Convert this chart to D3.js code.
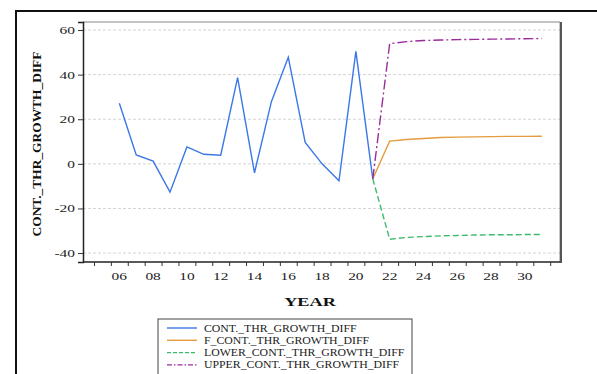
<!DOCTYPE html>
<html>
<head>
<meta charset="utf-8">
<script src="https://cdn.jsdelivr.net/npm/d3@7"></script>
<style>
	body { margin: 0; background: #fff; }
	text { font-family: 'Liberation Serif', 'Times New Roman', serif; }
</style>
</head>
<body>
<div id="root"></div>
<script>
// ---- data ----
const actualYears = [2006, 2007, 2008, 2009, 2010, 2011, 2012, 2013, 2014, 2015, 2016, 2017, 2018, 2019, 2020, 2021]
const actualValues = [27.2, 4.0, 1.2, -12.7, 7.6, 4.3, 3.9, 38.7, -4.0, 27.9, 47.8, 9.6, 0.0, -7.6, 50.4, -6.7]

const forecastYears = [2021, 2022, 2023, 2024, 2025, 2026, 2027, 2028, 2029, 2030, 2031]
const forecastValues = [-6.7, 10.2, 10.9, 11.4, 11.8, 12.0, 12.1, 12.2, 12.3, 12.3, 12.4]
const lowerValues = [-6.7, -33.8, -33.0, -32.6, -32.3, -32.1, -31.9, -31.8, -31.8, -31.7, -31.7]
const upperValues = [-6.7, 53.9, 54.8, 55.3, 55.5, 55.7, 55.8, 55.9, 56.0, 56.1, 56.2]

const yTicks = [-40, -20, 0, 20, 40, 60]
const xLabelYears = [2006, 2008, 2010, 2012, 2014, 2016, 2018, 2020, 2022, 2024, 2026, 2028, 2030]

const seriesNames = [
	'CONT._THR_GROWTH_DIFF',
	'F_CONT._THR_GROWTH_DIFF',
	'LOWER_CONT._THR_GROWTH_DIFF',
	'UPPER_CONT._THR_GROWTH_DIFF',
]

const C = {
	width: 597,
	height: 374,
	plot: { left: 83, right: 560, top: 22, bottom: 262 },
	stretch: 1.4,
	colors: ['#3a78e8', '#e59b3f', '#3dbb6c', '#9a2c9e'],
	dashes: [null, null, '6,3', '10,3,2,3'],
}

const svg = d3.select('#root').append('svg')
	.attr('width', C.width)
	.attr('height', C.height)

// stretch text horizontally like the source image
function widen (sel, k) {
	sel.each(function () {
		const w = this.getComputedTextLength()
		d3.select(this)
			.attr('textLength', w * k)
			.attr('lengthAdjust', 'spacingAndGlyphs')
	})
}

// outer frame
svg.append('rect')
	.attr('x', 16)
	.attr('y', 11)
	.attr('width', 700)
	.attr('height', 500)
	.attr('fill', 'none')
	.attr('stroke', '#111')
	.attr('stroke-width', 2)

const x = d3.scaleLinear()
	.domain([2003.85, 2032.08])
	.range([C.plot.left, C.plot.right])

const y = d3.scaleLinear()
	.domain([-44, 63.6])
	.range([C.plot.bottom, C.plot.top])

// grid
svg.append('g')
	.selectAll('line')
	.data(yTicks)
	.enter()
	.append('line')
	.attr('x1', C.plot.left)
	.attr('x2', C.plot.right)
	.attr('y1', d => y(d))
	.attr('y2', d => y(d))
	.attr('stroke', '#d4d4d4')
	.attr('stroke-width', 1)
	.attr('stroke-dasharray', '3,2')

// frame: top + right grey
svg.append('path')
	.attr('d', `M${C.plot.left},${C.plot.top}H${C.plot.right}V${C.plot.bottom}`)
	.attr('fill', 'none')
	.attr('stroke', '#888')
	.attr('stroke-width', 1)
svg.append('line')
	.attr('x1', C.plot.right + 1)
	.attr('x2', C.plot.right + 1)
	.attr('y1', C.plot.top)
	.attr('y2', C.plot.bottom + 1)
	.attr('stroke', '#555')
	.attr('stroke-width', 2)

// y axis
const axisY = d3.axisLeft(y)
	.tickValues(yTicks)
	.tickFormat(d => String(d))
	.tickSize(5)
	.tickPadding(3)
const gy = svg.append('g')
	.attr('transform', `translate(${C.plot.left},0)`)
	.call(axisY)
	.attr('font-family', null)
gy.select('.domain').attr('stroke', '#222').attr('stroke-width', 1.5)
gy.selectAll('.tick line').attr('stroke', '#333')
gy.selectAll('.tick text')
	.attr('font-size', 11)
	.attr('fill', '#222')
	.call(widen, C.stretch)

// x axis: ticks on the period boundaries, labels on the period
const boundaries = d3.range(2004, 2032).map(d => d + 0.5)
const axisX = d3.axisBottom(x)
	.tickValues(boundaries)
	.tickSize(4)
	.tickFormat('')
const gx = svg.append('g')
	.attr('transform', `translate(0,${C.plot.bottom})`)
	.call(axisX)
gx.select('.domain').attr('stroke', '#222').attr('stroke-width', 1.5)
	.attr('d', `M${C.plot.left},0H${C.plot.right}`)
gx.selectAll('.tick line').attr('stroke', '#333')

svg.append('g')
	.selectAll('text')
	.data(xLabelYears)
	.enter()
	.append('text')
	.attr('x', d => x(d))
	.attr('y', 280)
	.attr('text-anchor', 'middle')
	.attr('font-size', 11)
	.attr('fill', '#222')
	.text(d => d3.format('02d')(d % 100))
	.call(widen, C.stretch)

// axis titles
svg.append('text')
	.attr('transform', 'translate(41,144) rotate(-90)')
	.attr('text-anchor', 'middle')
	.attr('font-size', 13)
	.attr('font-weight', 'bold')
	.attr('fill', '#111')
	.attr('textLength', 185)
	.attr('lengthAdjust', 'spacingAndGlyphs')
	.text('CONT._THR_GROWTH_DIFF')

svg.append('text')
	.attr('x', 310)
	.attr('y', 306)
	.attr('text-anchor', 'middle')
	.attr('font-size', 13)
	.attr('font-weight', 'bold')
	.attr('fill', '#111')
	.text('YEAR')
	.call(widen, C.stretch)

// lines
const line = d3.line()
	.x(d => x(d[0]))
	.y(d => y(d[1]))

const series = [
	d3.zip(actualYears, actualValues),
	d3.zip(forecastYears, forecastValues),
	d3.zip(forecastYears, lowerValues),
	d3.zip(forecastYears, upperValues),
]

svg.append('g')
	.selectAll('path')
	.data(series)
	.enter()
	.append('path')
	.attr('d', line)
	.attr('fill', 'none')
	.attr('stroke', (d, i) => C.colors[i])
	.attr('stroke-width', 1.4)
	.attr('stroke-dasharray', (d, i) => C.dashes[i])

// legend
const legend = svg.append('g')
	.attr('transform', 'translate(158,319)')

legend.append('rect')
	.attr('width', 254)
	.attr('height', 80)
	.attr('fill', '#fff')
	.attr('stroke', '#444')
	.attr('stroke-width', 1)

const item = legend.selectAll('.item')
	.data(seriesNames)
	.enter()
	.append('g')
	.attr('class', 'item')
	.attr('transform', (d, i) => `translate(0,${9 + i * 12.3})`)

item.append('line')
	.attr('x1', 9)
	.attr('x2', 39)
	.attr('stroke', (d, i) => C.colors[i])
	.attr('stroke-width', 1.4)
	.attr('stroke-dasharray', (d, i) => (i === 3 ? '5,2,1.5,2' : C.dashes[i] ? '4,2' : null))

item.append('text')
	.attr('x', 46)
	.attr('y', 3.5)
	.attr('font-size', 9.5)
	.attr('fill', '#222')
	.text(d => d)
	.call(widen, 1.24)
</script>
</body>
</html>
